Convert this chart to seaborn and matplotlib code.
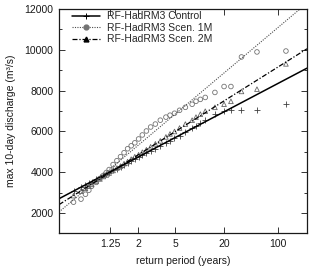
import numpy as np
import pandas as pd
import matplotlib
matplotlib.use("Agg")
import matplotlib.pyplot as plt
from matplotlib.lines import Line2D
from matplotlib.ticker import FixedLocator, NullLocator, MultipleLocator
import seaborn as sns

# ---------------- data ----------------
# empirical return periods (years), shared by the three series
return_period = [127, 53.2, 33.5, 24.5, 20.0, 15.3, 11.55, 10.03, 8.86, 7.94,
                 6.57, 5.60, 4.88, 4.33, 3.89, 3.37, 2.98, 2.66, 2.41, 2.20,
                 2.03, 1.877, 1.748, 1.635, 1.536, 1.449, 1.371, 1.300, 1.237,
                 1.198, 1.162, 1.127, 1.095, 1.064, 1.0496, 1.0353, 1.0214, 1.0079]

control_q = [7330, 7070, 7070, 7070, 6990, 6840, 6555, 6405, 6260, 6165,
             5970, 5780, 5680, 5535, 5440, 5295, 5150, 5050, 4955, 4855,
             4760, 4665, 4565, 4470, 4375, 4275, 4180, 4085, 3985,
             3915, 3840, 3745, 3645, 3525, 3455, 3355, 3260, 3065]

scen1m_q = [9940, 9895, 9650, 8200, 8200, 7910, 7665, 7570, 7475, 7330,
            7180, 7035, 6890, 6795, 6700, 6550, 6360, 6215, 6020, 5825,
            5630, 5440, 5295, 5150, 4955, 4760, 4565, 4375, 4130,
            3985, 3840, 3695, 3500, 3310, 3115, 2920, 2680, 2530]

scen2m_q = [9310, 8070, 7960, 7475, 7330, 7180, 6990, 6845, 6700, 6550,
            6360, 6165, 5995, 5875, 5730, 5535, 5390, 5245, 5100, 4980,
            4855, 4760, 4640, 4520, 4420, 4300, 4205, 4085, 3960,
            3865, 3790, 3670, 3550, 3405, 3310, 3210, 3065, 2850]

# Gumbel fit lines: values at both ends of the x range
fit_period = [1.000544, 239.5]
control_fit = [2700, 9100]
scen1m_fit = [2050, 12290]
scen2m_fit = [2410, 10050]

series_labels = ["RF-HadRM3 Control", "RF-HadRM3 Scen. 1M", "RF-HadRM3 Scen. 2M"]
x_ticks = [1.25, 2, 5, 20, 100]
x_tick_labels = ["1.25", "2", "5", "20", "100"]
y_ticks = [2000, 4000, 6000, 8000, 10000, 12000]

# ---------------- style ----------------
sns.set_style("ticks")
plt.rcParams["font.family"] = ["Liberation Sans", "DejaVu Sans"]
plt.rcParams["font.size"] = 7.5


def gumbel_fwd(T):
    T = np.asarray(T, dtype=float)
    T = np.clip(T, 1 + 1e-12, None)
    with np.errstate(all="ignore"):
        return -np.log(-np.log1p(-1.0 / T))


def gumbel_inv(u):
    u = np.asarray(u, dtype=float)
    with np.errstate(all="ignore"):
        return 1.0 / (-np.expm1(-np.exp(-u)))


fig = plt.figure(figsize=(3.10, 2.68), dpi=100)
ax = fig.add_axes([59 / 310, 1 - 233.4 / 268, 248 / 310, 224.4 / 268])
ax.set_xscale("function", functions=(gumbel_fwd, gumbel_inv))

pts = pd.DataFrame({"T": return_period, "Control": control_q,
                    "Scen1M": scen1m_q, "Scen2M": scen2m_q})
fits = pd.DataFrame({"T": fit_period, "Control": control_fit,
                     "Scen1M": scen1m_fit, "Scen2M": scen2m_fit})

# fitted lines
sns.lineplot(data=fits, x="T", y="Control", ax=ax, color="black", lw=1.1,
             linestyle="-", sort=False)
sns.lineplot(data=fits, x="T", y="Scen1M", ax=ax, color="0.3", lw=0.8,
             linestyle=(0, (1, 1.2)), sort=False)
sns.lineplot(data=fits, x="T", y="Scen2M", ax=ax, color="black", lw=0.9,
             linestyle=(0, (4, 1.5, 1, 1.5)), sort=False)

# empirical points
sns.scatterplot(data=pts, x="T", y="Control", ax=ax, marker="+", color="0.25",
                s=18, linewidth=0.6)
sns.scatterplot(data=pts, x="T", y="Scen1M", ax=ax, marker="o", fc="none",
                ec="0.45", s=11, linewidth=0.6)
sns.scatterplot(data=pts, x="T", y="Scen2M", ax=ax, marker="^", fc="none",
                ec="0.4", s=11, linewidth=0.6)

ax.set_xlim(fit_period[0], fit_period[1])
ax.set_ylim(1000, 12000)
ax.xaxis.set_major_locator(FixedLocator(x_ticks))
ax.set_xticklabels(x_tick_labels)
ax.xaxis.set_minor_locator(NullLocator())
ax.yaxis.set_major_locator(FixedLocator(y_ticks))
ax.yaxis.set_minor_locator(MultipleLocator(1000))

ax.tick_params(axis="both", which="both", direction="in", top=True, right=True,
               color="0.2", width=0.7, labelsize=7.5, labelcolor="0.1")
ax.tick_params(axis="both", which="major", length=4, pad=4)
ax.tick_params(axis="both", which="minor", length=2.5)
for sp in ax.spines.values():
    sp.set_visible(True)
    sp.set_linewidth(0.9)
    sp.set_color("0.1")

ax.set_xlabel("return period (years)", fontsize=7.5, labelpad=5, color="0.1")
ax.set_ylabel("max 10-day discharge (m³/s)", fontsize=7.5, labelpad=6, color="0.1")

handles = [
    Line2D([], [], color="black", lw=1.1, ls="-", marker="+", ms=4, mew=0.7),
    Line2D([], [], color="0.3", lw=0.8, ls=(0, (1, 1.2)), marker="o", ms=3.5,
           mfc="0.45", mec="0.45"),
    Line2D([], [], color="black", lw=0.9, ls=(0, (4, 1.5, 1, 1.5)), marker="^",
           ms=3.5, mfc="black", mec="black"),
]
ax.legend(handles, series_labels, loc="upper left", bbox_to_anchor=(0.052, 0.99),
          frameon=False, borderaxespad=0, borderpad=0, handlelength=2.7,
          handletextpad=0.7, labelspacing=0.15, fontsize=7.5, numpoints=1)

fig.savefig("out.png", dpi=100)
